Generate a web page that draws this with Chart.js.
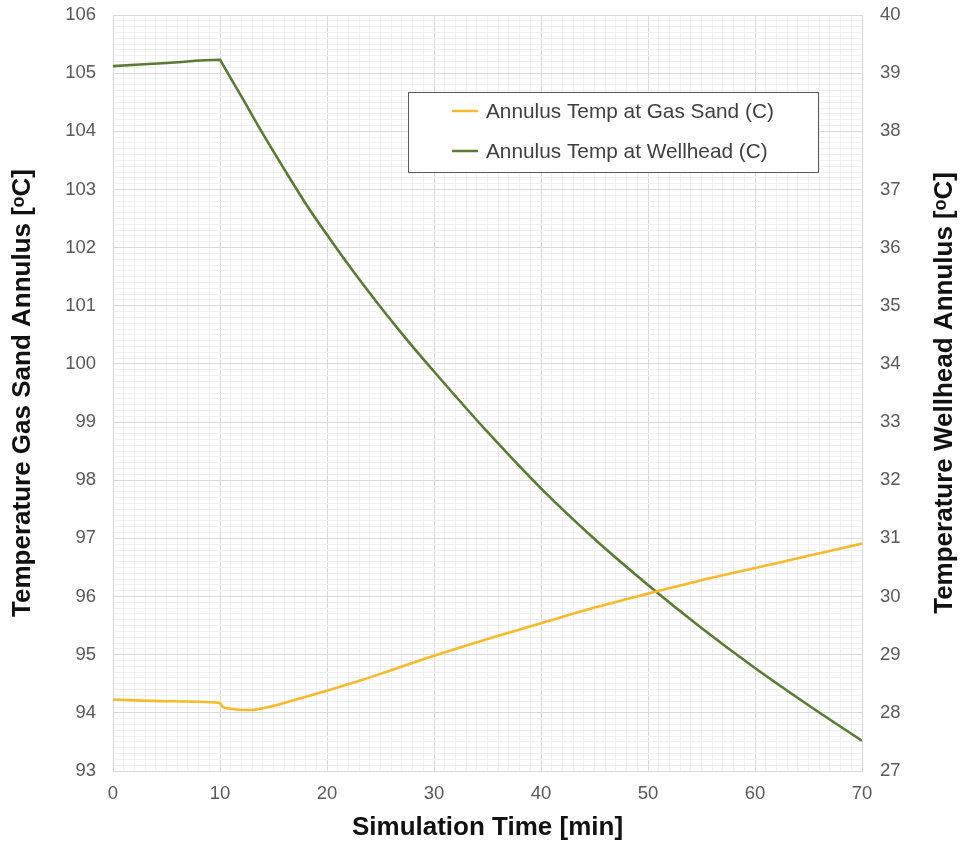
<!DOCTYPE html>
<html>
<head>
<meta charset="utf-8">
<title>Annulus Temperature</title>
<script src="https://cdn.jsdelivr.net/npm/chart.js@4.4.1/dist/chart.umd.min.js"></script>
<style>
  html, body { margin: 0; padding: 0; background: #ffffff; }
  #wrap { position: relative; width: 964px; height: 842px; }
</style>
</head>
<body>
<div id="wrap"><canvas id="chart" width="964" height="842"></canvas></div>
<script>
// Annulus temperature at the gas sand (left axis, °C)
const timeGasSand = [0, 5, 10, 10.2, 11, 12, 13, 14, 15, 16, 17.5, 20, 22.5, 25, 30, 35, 40, 45, 50, 55, 60, 65, 70];
const tempGasSand = [94.23, 94.20, 94.17, 94.11, 94.07, 94.05, 94.05, 94.08, 94.12, 94.17, 94.25, 94.38, 94.52, 94.67, 94.98, 95.27, 95.54, 95.81, 96.05, 96.28, 96.49, 96.70, 96.91];

// Annulus temperature at the wellhead (right axis, °C)
const timeWellhead = [0, 5, 10, 10.05, 12, 14, 16, 18, 20, 22.5, 25, 27.5, 30, 35, 40, 45, 50, 55, 60, 65, 70];
const tempWellhead = [39.12, 39.175, 39.23, 39.214, 38.60, 37.96, 37.35, 36.76, 36.22, 35.58, 34.98, 34.41, 33.87, 32.83, 31.86, 30.99, 30.20, 29.46, 28.77, 28.13, 27.52];

const seriesNames = ['Annulus Temp at Gas Sand (C)', 'Annulus Temp at Wellhead (C)'];
const xTickLabels = [0, 10, 20, 30, 40, 50, 60, 70];
const leftTickLabels = [93, 94, 95, 96, 97, 98, 99, 100, 101, 102, 103, 104, 105, 106];
const rightTickLabels = [27, 28, 29, 30, 31, 32, 33, 34, 35, 36, 37, 38, 39, 40];

const FONT = '"Liberation Sans", Arial, Helvetica, sans-serif';
const MAJOR_GRID = '#d9d9d9';
const MINOR_GRID = '#f0f0f0';
const TICK_COLOR = '#595959';

const toPoints = (xs, ys) => xs.map((x, i) => ({ x: x, y: ys[i] }));
const near = (a, b) => Math.abs(a - b) < 1e-6;

// Build a tick list with minor steps between the labelled values
function withMinor(labels, parts) {
  const out = [];
  for (let i = 0; i < labels.length - 1; i++) {
    const a = labels[i], b = labels[i + 1];
    for (let k = 0; k < parts; k++) {
      out.push({ value: Math.round((a + (b - a) * k / parts) * 1000) / 1000 });
    }
  }
  out.push({ value: labels[labels.length - 1] });
  return out;
}

// Keep the plot edges fixed regardless of label overhang
function fixSize(prop, size) {
  return scale => {
    scale[prop] = size;
    scale.paddingTop = 0;
    scale.paddingBottom = 0;
    scale.paddingLeft = 0;
    scale.paddingRight = 0;
  };
}

// Framed legend drawn inside the plot area
const boxedLegend = {
  id: 'boxedLegend',
  afterDraw(chart, args, opts) {
    const ctx = chart.ctx;
    ctx.save();
    ctx.fillStyle = '#ffffff';
    ctx.fillRect(opts.x, opts.y, opts.w, opts.h);
    ctx.strokeStyle = '#595959';
    ctx.lineWidth = 1;
    ctx.strokeRect(opts.x + 0.5, opts.y + 0.5, opts.w, opts.h);
    ctx.font = opts.fontSize + 'px ' + FONT;
    ctx.textBaseline = 'middle';
    ctx.textAlign = 'left';
    chart.data.datasets.forEach((ds, i) => {
      const cy = opts.y + opts.rowTop + i * opts.rowGap;
      ctx.strokeStyle = ds.borderColor;
      ctx.lineWidth = 2.5;
      ctx.beginPath();
      ctx.moveTo(opts.x + opts.lineStart, cy);
      ctx.lineTo(opts.x + opts.lineStart + opts.lineLen, cy);
      ctx.stroke();
      ctx.fillStyle = '#404040';
      ctx.fillText(ds.label, opts.x + opts.textStart, cy + 1);
    });
    ctx.restore();
  }
};

// Right-hand axis title, reading bottom to top like the left one
const rightTitle = {
  id: 'rightTitle',
  afterDraw(chart, args, opts) {
    const scale = chart.scales.y2;
    const t = scale.options.title;
    const ctx = chart.ctx;
    ctx.save();
    ctx.translate(opts.x, (scale.top + scale.bottom) / 2);
    ctx.rotate(-Math.PI / 2);
    ctx.font = 'bold ' + t.font.size + 'px ' + FONT;
    ctx.fillStyle = t.color;
    ctx.textAlign = 'center';
    ctx.textBaseline = 'middle';
    ctx.fillText(t.text, 0, 0);
    ctx.restore();
  }
};

new Chart(document.getElementById('chart'), {
  type: 'line',
  data: {
    datasets: [
      {
        label: seriesNames[0],
        data: toPoints(timeGasSand, tempGasSand),
        yAxisID: 'y',
        borderColor: '#f9b928',
        borderWidth: 2.6,
        pointRadius: 0,
        cubicInterpolationMode: 'monotone'
      },
      {
        label: seriesNames[1],
        data: toPoints(timeWellhead, tempWellhead),
        yAxisID: 'y2',
        borderColor: '#5b7a34',
        borderWidth: 2.6,
        pointRadius: 0,
        cubicInterpolationMode: 'monotone'
      }
    ]
  },
  plugins: [boxedLegend, rightTitle],
  options: {
    responsive: false,
    animation: false,
    layout: { padding: { top: 15, left: 0, right: 0, bottom: 0 } },
    plugins: {
      legend: { display: false },
      tooltip: { enabled: false },
      boxedLegend: { x: 408, y: 92, w: 410, h: 80, rowTop: 19, rowGap: 40, lineStart: 44, lineLen: 26, textStart: 78, fontSize: 20.8 },
      rightTitle: { x: 945 }
    },
    scales: {
      x: {
        type: 'linear',
        min: 0,
        max: 70,
        afterBuildTicks: axis => { axis.ticks = withMinor(xTickLabels, 10); },
        afterFit: fixSize('height', 71),
        grid: {
          drawTicks: false,
          color: c => (c.tick && xTickLabels.some(v => near(v, c.tick.value))) ? MAJOR_GRID : MINOR_GRID,
          lineWidth: 1
        },
        border: { color: MAJOR_GRID },
        ticks: {
          autoSkip: false,
          maxRotation: 0,
          minRotation: 0,
          padding: 12,
          color: TICK_COLOR,
          font: { family: FONT, size: 18.5 },
          callback: v => xTickLabels.some(t => near(t, v)) ? String(Math.round(v)) : ''
        },
        title: {
          display: true,
          text: 'Simulation Time [min]',
          color: '#111111',
          font: { family: FONT, size: 26, weight: 'bold', lineHeight: 1 },
          padding: { top: 0, bottom: 1 }
        }
      },
      y: {
        type: 'linear',
        position: 'left',
        min: 93,
        max: 106,
        afterBuildTicks: axis => { axis.ticks = withMinor(leftTickLabels, 10); },
        afterFit: fixSize('width', 113),
        grid: {
          drawTicks: false,
          color: c => (c.tick && leftTickLabels.some(v => near(v, c.tick.value))) ? MAJOR_GRID : MINOR_GRID,
          lineWidth: 1
        },
        border: { color: MAJOR_GRID },
        ticks: {
          autoSkip: false,
          padding: 17,
          color: TICK_COLOR,
          font: { family: FONT, size: 18.5 },
          callback: v => leftTickLabels.some(t => near(t, v)) ? String(Math.round(v)) : ''
        },
        title: {
          display: true,
          text: 'Temperature Gas Sand Annulus [ᵒC]',
          color: '#111111',
          font: { family: FONT, size: 26, weight: 'bold', lineHeight: 1 },
          padding: { top: 10, bottom: 0 }
        }
      },
      y2: {
        type: 'linear',
        position: 'right',
        min: 27,
        max: 40,
        afterBuildTicks: axis => { axis.ticks = rightTickLabels.map(v => ({ value: v })); },
        afterFit: fixSize('width', 102),
        grid: { display: false, drawTicks: false },
        border: { display: false },
        ticks: {
          autoSkip: false,
          padding: 18,
          color: TICK_COLOR,
          font: { family: FONT, size: 18.5 }
        },
        title: {
          display: false,
          text: 'Temperature Wellhead Annulus [ᵒC]',
          color: '#111111',
          font: { family: FONT, size: 26, weight: 'bold' }
        }
      }
    }
  }
});
</script>
</body>
</html>
